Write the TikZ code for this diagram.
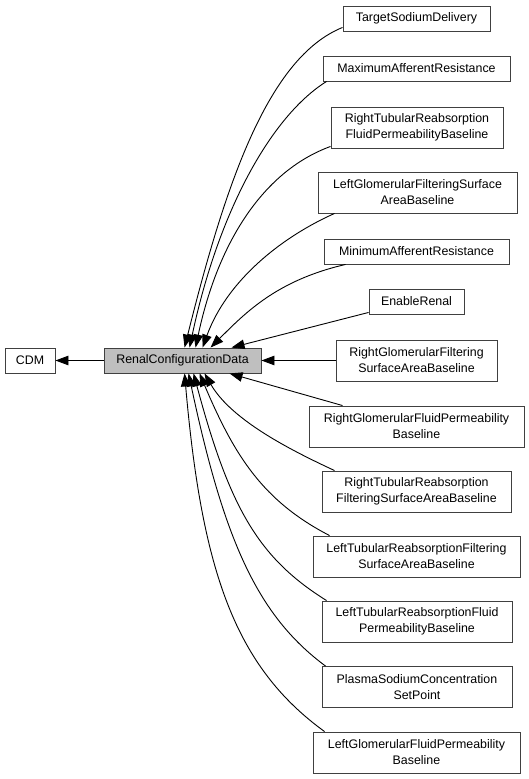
\documentclass[tikz,border=0pt]{standalone}
\usepackage{fontspec}
\newfontfamily\doxfont{Liberation Sans}
\usetikzlibrary{arrows.meta,calc}
\tikzset{
  box/.style={draw=black!75, line width=0.9pt, fill=white, inner sep=0pt, align=center,
    font=\doxfont\fontsize{12.4}{16}\selectfont, text=black},
  mainbox/.style={box, fill=black!25},
  edge/.style={line width=0.9pt, draw=black, -{Triangle[length=13pt,width=9.5pt]}},
}
\begin{document}
\begin{tikzpicture}[x=1pt,y=1pt]
\useasboundingbox (0,0) rectangle (529,-779);
\node[box, minimum width=50pt, minimum height=25pt] (cdm) at (30,-360.5) {CDM};
\node[mainbox, minimum width=157pt, minimum height=25pt] (rcd) at (182.5,-360.5) {RenalConfigurationData};

\node[box, minimum width=147pt, minimum height=25pt] (t1) at (416.5,-18.5) {TargetSodiumDelivery};
\node[box, minimum width=187pt, minimum height=25pt] (t2) at (416.5,-68.5) {MaximumAfferentResistance};
\node[box, minimum width=172pt, minimum height=41pt] (t3) at (417,-127.5) {RightTubularReabsorption\\FluidPermeabilityBaseline};
\node[box, minimum width=199pt, minimum height=41pt] (t4) at (417.5,-192.5) {LeftGlomerularFilteringSurface\\AreaBaseline};
\node[box, minimum width=185pt, minimum height=25pt] (t5) at (416.5,-251.5) {MinimumAfferentResistance};
\node[box, minimum width=95pt, minimum height=25pt] (t6) at (416.5,-301.5) {EnableRenal};
\node[box, minimum width=161pt, minimum height=41pt] (t7) at (416.5,-360.5) {RightGlomerularFiltering\\SurfaceAreaBaseline};
\node[box, minimum width=215pt, minimum height=41pt] (t8) at (416.5,-426.5) {RightGlomerularFluidPermeability\\Baseline};
\node[box, minimum width=189pt, minimum height=41pt] (t9) at (416.5,-491.5) {RightTubularReabsorption\\FilteringSurfaceAreaBaseline};
\node[box, minimum width=207pt, minimum height=41pt] (t10) at (416.5,-556.5) {LeftTubularReabsorptionFiltering\\SurfaceAreaBaseline};
\node[box, minimum width=190pt, minimum height=41pt] (t11) at (417,-621.5) {LeftTubularReabsorptionFluid\\PermeabilityBaseline};
\node[box, minimum width=190pt, minimum height=41pt] (t12) at (417,-687) {PlasmaSodiumConcentration\\SetPoint};
\node[box, minimum width=207pt, minimum height=41pt] (t13) at (416.5,-752.5) {LeftGlomerularFluidPermeability\\Baseline};

\draw[edge] (rcd.west) -- (cdm.east);

\draw[edge] ($(t1.south west)+(0,4)$) to[out=202,in=76,out distance=80pt,in distance=170pt] ($(rcd.north west)+(81,0)$);
\draw[edge] ($(t2.south west)+(4,0)$) to[out=212,in=78,out distance=65pt,in distance=140pt] ($(rcd.north west)+(86,0)$);
\draw[edge] ($(t3.south west)+(0,2)$) to[out=200,in=78,out distance=70pt,in distance=110pt] ($(rcd.north west)+(92,0)$);
\draw[edge] ($(t4.south west)+(17,0)$) to[out=204,in=70,out distance=60pt,in distance=70pt] ($(rcd.north west)+(99,0)$);
\draw[edge] ($(t5.south west)+(22,0)$) to[out=193,in=45,out distance=70pt,in distance=50pt] ($(rcd.north west)+(107,0)$);
\draw[edge] ($(t6.south west)+(0,2)$) -- ($(rcd.north west)+(128,0)$);
\draw[edge] (t7.west) -- (rcd.east);
\draw[edge] ($(t8.north west)+(34,0)$) -- ($(rcd.south west)+(126,0)$);
\draw[edge] ($(t9.north west)+(13,0)$) to[out=155,in=-60,out distance=45pt,in distance=55pt] ($(rcd.south west)+(101,0)$);
\draw[edge] ($(t10.north west)+(17,0)$) to[out=152.6,in=-67,out distance=75pt,in distance=90pt] ($(rcd.south west)+(96,0)$);
\draw[edge] ($(t11.north west)+(5,0)$) to[out=148,in=-75,out distance=80pt,in distance=140pt] ($(rcd.south west)+(90,0)$);
\draw[edge] ($(t12.north west)+(4,0)$) to[out=143.5,in=-78,out distance=85pt,in distance=170pt] ($(rcd.south west)+(85,0)$);
\draw[edge] ($(t13.north west)+(12,0)$) to[out=144,in=-85,out distance=110pt,in distance=200pt] ($(rcd.south west)+(81,0)$);
\end{tikzpicture}
\end{document}
